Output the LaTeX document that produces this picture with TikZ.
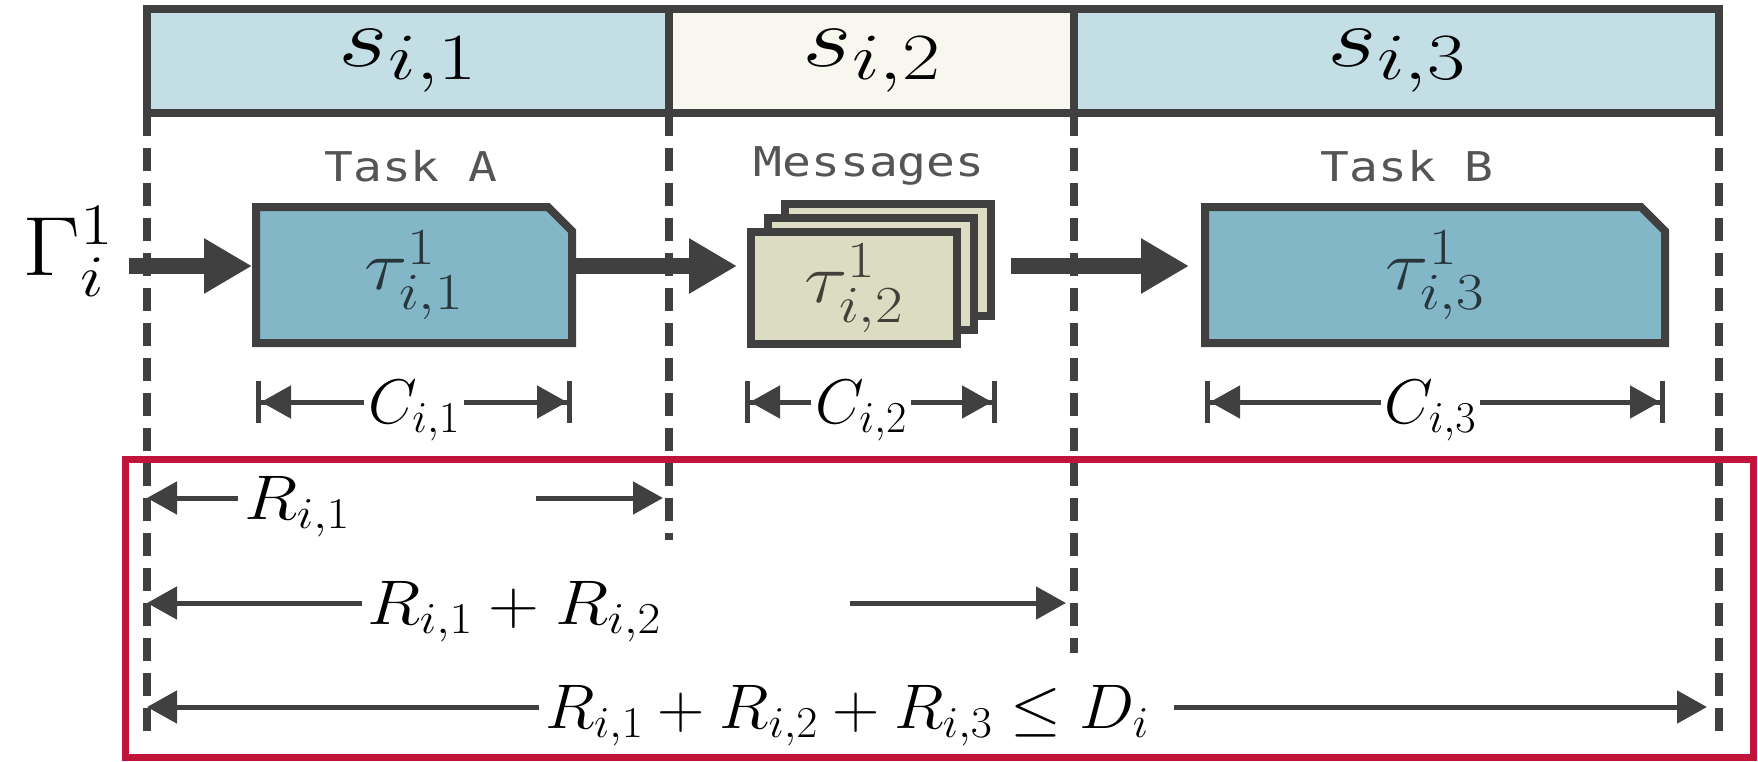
\documentclass[tikz,border=0pt]{standalone}
\usepackage{fix-cm}
\usepackage{graphicx}
\usepackage{amsmath,amssymb}
\usepackage{fontspec}
\newfontfamily\monof{DejaVu Sans Mono}
\usetikzlibrary{arrows.meta,calc}

% large headings keep fairly big indices
\DeclareMathSizes{86}{86}{66}{48}
\DeclareMathSizes{70}{70}{52}{38}

% horizontally widened text
\newcommand{\widen}[2]{\scalebox{#1}[1]{#2}}

\definecolor{ink}{HTML}{404040}
\definecolor{hdrblue}{HTML}{C4DEE5}
\definecolor{hdrcream}{HTML}{F7F6EF}
\definecolor{taskblue}{HTML}{83B6C7}
\definecolor{msgbeige}{HTML}{DCDCC3}
\definecolor{crimson}{HTML}{C2143A}
\definecolor{labelgray}{HTML}{555555}

\tikzset{
  hdrcell/.style={draw=ink, line width=8pt, inner sep=0pt, outer sep=0pt,
    minimum height=104pt, font=\fontsize{86}{90}\selectfont},
  guide/.style={draw=ink, line width=8pt, dash pattern=on 23pt off 12pt},
  tasklbl/.style={font=\monof\fontsize{41}{44}\selectfont, text=labelgray, inner sep=0pt},
  cardarea/.style={inner sep=0pt, outer sep=0pt},
  card/.style={draw=ink, line width=8pt, fill=taskblue, line join=miter},
  msgcard/.style={draw=ink, line width=8pt, fill=msgbeige, inner sep=0pt, outer sep=0pt,
    minimum width=206pt, minimum height=112pt},
  cardtext/.style={font=\fontsize{70}{74}\selectfont, text=black, text opacity=0.7, inner sep=0pt},
  flow/.style={draw=ink, line width=16pt, -{Triangle[length=48pt,width=52pt]}},
  span/.style={draw=ink, line width=5pt,
    {Bar[width=42pt]Triangle[length=30pt,width=32pt]}-{Triangle[length=30pt,width=32pt]Bar[width=42pt]}},
  halfspan/.style={draw=ink, line width=5pt, -{Triangle[length=30pt,width=32pt]}},
  mathlbl/.style={font=\fontsize{63}{66}\selectfont, inner sep=0pt},
  spanlbl/.style={mathlbl, fill=white, inner xsep=4pt, inner ysep=2pt, anchor=base, yshift=-21pt},
  respframe/.style={draw=crimson, line width=7pt, inner sep=0pt, outer sep=0pt}
}

\begin{document}
\begin{tikzpicture}[x=1pt, y=-1pt]
\useasboundingbox (0,0) rectangle (1758,761);

% segment header
\node[hdrcell, fill=hdrblue,  minimum width=522pt] (s1) at (408,61)    {\widen{1.25}{$s_{i,1}$}};
\node[hdrcell, fill=hdrcream, minimum width=405pt] (s2) at (871.5,61)  {\widen{1.25}{$s_{i,2}$}};
\node[hdrcell, fill=hdrblue,  minimum width=645pt] (s3) at (1396.5,61) {\widen{1.25}{$s_{i,3}$}};

% segment boundaries
\draw[guide] (s1.south west) -- ++(0,621);
\draw[guide] (s1.south east) -- ++(0,427);
\draw[guide] (s2.south east) -- ++(0,540);
\draw[guide] (s3.south east) -- ++(0,620);

% stage captions
\node[tasklbl] (lA) at (411,166)  {\widen{1.17}{Task A}};
\node[tasklbl] (lM) at (869,166)  {\widen{1.17}{Messages}};
\node[tasklbl] (lB) at (1407,166) {\widen{1.17}{Task B}};

% task A card
\node[cardarea, minimum width=316pt, minimum height=136pt] (tA) at (414,275) {};
\draw[card] (tA.south west) -- (tA.north west) -- ($(tA.north east)+(-24,0)$)
  -- ($(tA.north east)+(0,24)$) -- (tA.south east) -- cycle;
\node[cardtext] (tAt) at (tA.center) {\widen{1.15}{$\tau^{1}_{i,1}$}};

% message stack
\node[msgcard] (mB) at (888,260) {};
\node[msgcard] (mM) at (871,274) {};
\node[msgcard] (mF) at (854,288) {};
\node[cardtext] (mFt) at (mF.center) {\widen{1.15}{$\tau^{1}_{i,2}$}};

% task B card
\node[cardarea, minimum width=460pt, minimum height=136pt] (tB) at (1435,275) {};
\draw[card] (tB.south west) -- (tB.north west) -- ($(tB.north east)+(-24,0)$)
  -- ($(tB.north east)+(0,24)$) -- (tB.south east) -- cycle;
\node[cardtext] (tBt) at (tB.center) {\widen{1.15}{$\tau^{1}_{i,3}$}};

% chain input
\node[font=\fontsize{84}{88}\selectfont, inner sep=0pt, anchor=base east] (G) at (114,275)
  {\widen{1.2}{$\Gamma^{1}_{i}$}};

% data flow
\coordinate (row) at (0,266);
\draw[flow, shorten <=15pt, shorten >=4pt] (G.east |- row) -- (tA.west |- row);
\draw[flow, shorten <=4pt, shorten >=14pt] (tA.east |- row) -- (mF.west |- row);
\draw[flow, shorten <=20pt, shorten >=16pt] (mB.east |- row) -- (tB.west |- row);

% execution times
\coordinate (cdim) at (0,402);
\draw[span] (tA.south west |- cdim) -- (tA.south east |- cdim)
  node[spanlbl, pos=0.5] (C1) {$C_{i,1}$};
\draw[span] ($(mF.west |- cdim)+(-6,0)$) -- ($(mB.east |- cdim)+(6,0)$)
  node[spanlbl, pos=0.46] (C2) {$C_{i,2}$};
\draw[span] (tB.south west |- cdim) -- (tB.south east |- cdim)
  node[spanlbl, pos=0.49] (C3) {$C_{i,3}$};

% response times
\coordinate (r1) at (0,498);
\coordinate (r2) at (0,603);
\coordinate (r3) at (0,707);

\node[mathlbl, anchor=base west] (R1) at (244,519) {\widen{1.12}{$R_{i,1}$}};
\coordinate (r1gap) at (536,498);
\draw[halfspan, shorten <=6pt] (R1.west |- r1) -- (s1.south west |- r1);
\draw[halfspan, shorten >=6pt] (r1gap) -- (s1.south east |- r1);

\node[mathlbl, anchor=base west] (R2) at (367,624) {\widen{1.12}{$R_{i,1}+R_{i,2}$}};
\coordinate (r2gap) at (850,603);
\draw[halfspan, shorten <=5pt] (R2.west |- r2) -- (s1.south west |- r2);
\draw[halfspan, shorten >=8pt] (r2gap) -- (s2.south east |- r2);

\node[mathlbl, anchor=base west] (R3) at (545,728) {\widen{1.04}{$R_{i,1}+R_{i,2}+R_{i,3}\leq D_i$}};
\coordinate (r3gap) at (1174,707);
\draw[halfspan, shorten <=6pt] (R3.west |- r3) -- (s1.south west |- r3);
\draw[halfspan, shorten >=12pt] (r3gap) -- (s3.south east |- r3);

% response-time region
\node[respframe, minimum width=1628pt, minimum height=298pt] (resp) at (939,608) {};
\end{tikzpicture}
\end{document}
